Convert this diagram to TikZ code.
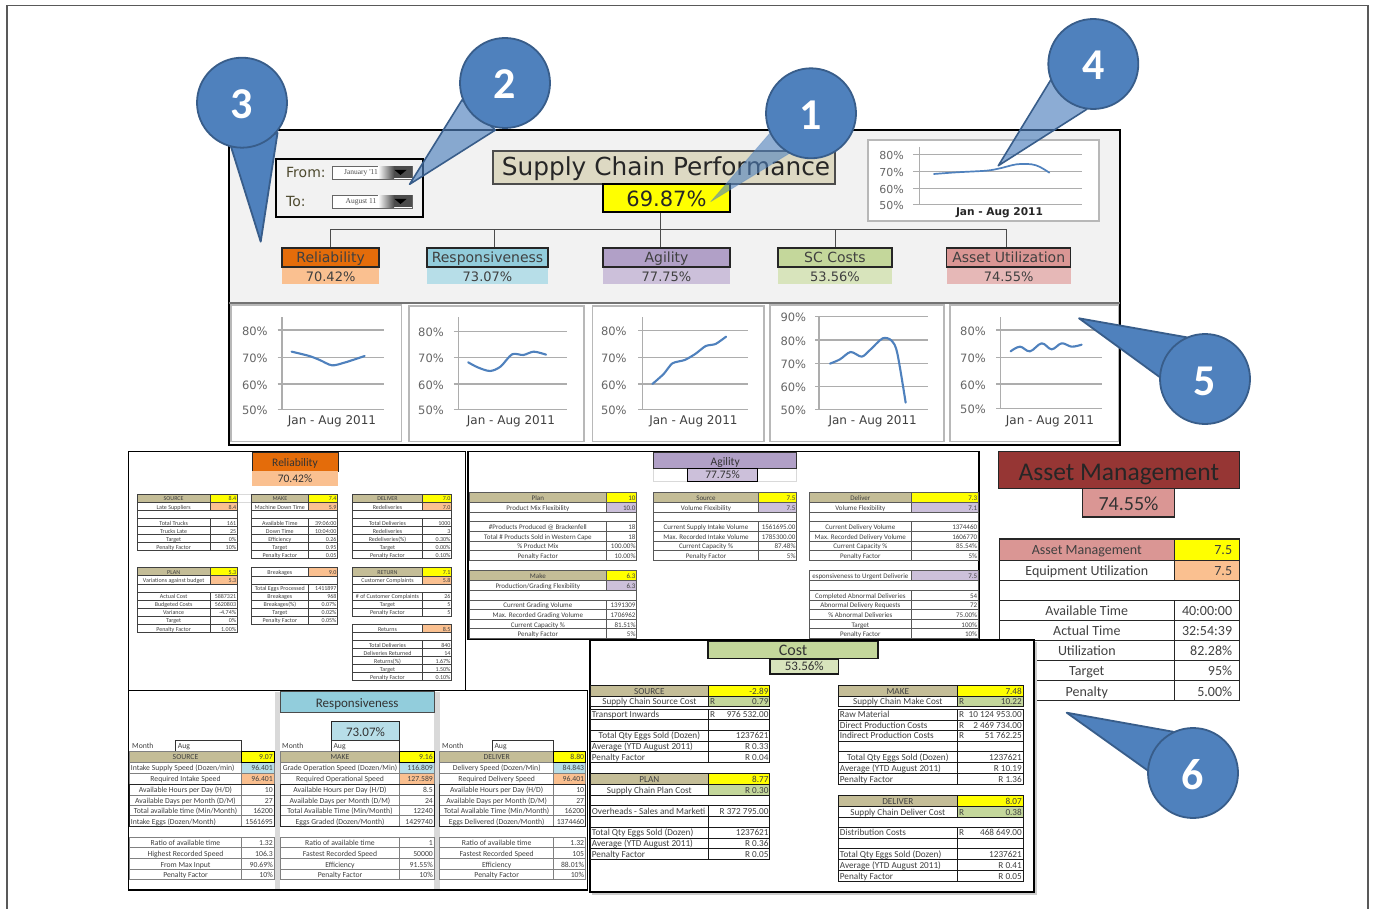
\documentclass[tikz,border=0pt]{standalone}
\usepackage{fontspec}
\setmainfont{Carlito}
\newfontfamily\djv{DejaVu Sans}
\newfontfamily\lser{Liberation Serif}
\definecolor{tcol}{HTML}{404040}
\definecolor{cblue}{HTML}{4F81BD}
\definecolor{cedge}{HTML}{385D8A}
\definecolor{chead}{HTML}{C4BD97}
\definecolor{cyel}{HTML}{FFFF00}
\definecolor{orgA}{HTML}{E46C0A}
\definecolor{orgB}{HTML}{FAC090}
\definecolor{aquA}{HTML}{92CDDC}
\definecolor{aquB}{HTML}{B7DEE8}
\definecolor{purA}{HTML}{B1A0C7}
\definecolor{purB}{HTML}{CCC0DA}
\definecolor{grnA}{HTML}{C4D79B}
\definecolor{grnB}{HTML}{D8E4BC}
\definecolor{redA}{HTML}{DA9694}
\definecolor{redB}{HTML}{E6B8B7}
\definecolor{redC}{HTML}{963634}
\definecolor{panel}{HTML}{F2F2F2}
\definecolor{tanbox}{HTML}{DDD9C3}
\newcounter{cn}
\def\tdy{0}
\def\vpad{1}
\newcommand\fsz[1]{\fontsize{#1}{#1}\selectfont}
\newcommand\T[4][]{\stepcounter{cn}\node[txt,#1] (n\thecn) at (#2,#3) {#4};}
\newcommand\cols[3]{\def\Xa{#1}\def\Xb{#2}\def\Xc{#3}}
\newcommand\rowbox[6]{%
 \fill[#3] (\Xa,#1) rectangle (\Xb,#2);
 \fill[#5] (\Xb,#1) rectangle (\Xc,#2);
 \draw[cell] (\Xa,#1) rectangle (\Xb,#2) (\Xb,#1) rectangle (\Xc,#2);
 \T[anchor=mid,font=\tabf,yshift=-\tdy pt]{{(\Xa+\Xb)/2}}{{(#1+#2)/2}}{#4}
 \T[anchor=mid east,font=\tabf,yshift=-\tdy pt]{\Xc-\vpad}{{(#1+#2)/2}}{#6}
}
\newcommand\rowL[6]{%
 \fill[#3] (\Xa,#1) rectangle (\Xb,#2);
 \fill[#5] (\Xb,#1) rectangle (\Xc,#2);
 \draw[cell] (\Xa,#1) rectangle (\Xb,#2) (\Xb,#1) rectangle (\Xc,#2);
 \T[anchor=mid west,font=\tabf,yshift=-\tdy pt]{\Xa+1}{{(#1+#2)/2}}{#4}
 \T[anchor=mid east,font=\tabf,yshift=-\tdy pt]{\Xc-\vpad}{{(#1+#2)/2}}{#6}
}
\newcommand\blank[2]{\draw[cell,fill=white] (\Xa,#1) rectangle (\Xc,#2);}
\newcommand\rmark[2]{\T[anchor=mid west,font=\tabf,yshift=-\tdy pt]{\Xb+2}{{(#1+#2)/2}}{R}}
\newcommand\frm[2]{\draw[tframe] (\Xa,#1) rectangle (\Xc,#2);}
\tikzset{
 txt/.style={inner sep=0pt,text=tcol},
 cell/.style={draw=black!75,line width=.7pt},
 tframe/.style={draw=black!85,line width=.9pt},
 panelbox/.style={draw=black,line width=1.6pt,fill=white},
 baseoff/.style={text depth=0pt,text height=#1},
 kpibox/.style={draw=black!85,line width=1.4pt,inner sep=0pt,text=tcol,font=\djv\fsz{14},baseoff=10.2pt},
 kpival/.style={inner sep=0pt,text=tcol,font=\djv\fsz{13},baseoff=11.2pt},
 chartbox/.style={draw=black!28,line width=1.5pt,fill=white},
 grid/.style={draw=black!32,line width=1.1pt},
 serie/.style={draw=cblue,line width=2.1pt,line cap=round,line join=round},
 axl/.style={txt,text=black!60,font=\djv\fsz{11.5},yshift=-1pt},
 xlab/.style={txt,font=\djv\fsz{12},yshift=-1pt},
 bubble/.style={circle,draw=cedge,line width=1.8pt,fill=cblue,minimum size=90pt,inner sep=0pt,text=white,font=\bfseries\fsz{44},baseoff=32pt},
 tipsolid/.style={draw=cedge,line width=1.8pt,fill=cblue,line join=round},
 tiplight/.style={draw=cedge,line width=1.6pt,fill=cblue,fill opacity=.65,line join=round},
 tipfaint/.style={draw=cblue,draw opacity=.3,line width=.8pt,fill=cblue,fill opacity=.6,line join=round},
 ptitle/.style={inner sep=0pt,text=black!80},
}
\begin{document}
\begin{tikzpicture}[x=1pt,y=-1pt]
\useasboundingbox (0,0) rectangle (1375,909);
\fill[white] (0,0) rectangle (1375,909);
% outer page frame
\draw[black!65,line width=1.1pt] (7,909) -- (7,5.5) -- (1368,5.5) -- (1368,909);

% ---------- dashboard ----------
\draw[black,line width=2pt,fill=panel] (228.5,130) rectangle (1120,445);
\fill[white] (229.5,303.5) rectangle (1119,444);
\draw[black!55,line width=1.2pt] (229,303) -- (1119.5,303);

\node[draw=black,line width=2pt,fill=panel,minimum width=147pt,minimum height=58pt,inner sep=0pt] (range) at (349.5,188) {};
\T[anchor=mid west,font=\djv\fsz{14},text=black!60!olive,yshift=-3pt]{286}{172}{From:}
\T[anchor=mid west,font=\djv\fsz{14},text=black!60!olive,yshift=-3pt]{286}{201}{To:}
\foreach \yy/\lab/\nm in {172.5/January '11/fromdd,201.5/August 11/todd}{
 \node[draw=black!60,line width=.9pt,fill=white,minimum width=80pt,minimum height=13pt,inner sep=0pt] (\nm) at (372,\yy) {};
 \shade[left color=white,right color=black!70] (378,\yy-6) rectangle (394,\yy+6);
 \fill[black!70] (394,\yy-6) rectangle (412,\yy+6);
 \fill[black] (394.5,\yy-2.5) -- (406.5,\yy-2.5) -- (400.5,\yy+2.5) -- cycle;
 \node[inner sep=0pt,text=black!70,font=\lser\fsz{7.5}] (\nm t) at (361,\yy) {\lab};
}
\node[draw=black!70,line width=1.2pt,fill=tanbox,minimum width=342pt,minimum height=33pt,inner sep=0pt,text=black!85,font=\djv\fsz{24.8},baseoff=16.8pt] (titlebox) at (664,167.5) {\hspace*{4pt}Supply Chain Performance};
\node[draw=black,line width=1.5pt,fill=cyel,minimum width=127pt,minimum height=28pt,inner sep=0pt,text=black!85,font=\djv\fsz{21},baseoff=17.2pt] (kpi) at (666.5,198) {69.87\%};

\node[kpibox,fill=orgA,minimum width=97pt,minimum height=19pt] (rel) at (330.6,257.5) {Reliability};
\node[kpibox,fill=aquA,minimum width=121pt,minimum height=19pt] (res) at (487.5,257.5) {Responsiveness};
\node[kpibox,fill=purA,minimum width=127pt,minimum height=19pt] (agi) at (666.5,257.5) {Agility};
\node[kpibox,fill=grnA,minimum width=114pt,minimum height=19pt] (sc) at (835,257.5) {SC Costs};
\node[kpibox,fill=redA,minimum width=124pt,minimum height=19pt] (asu) at (1008.7,257.5) {Asset Utilization};
\draw[black!70,line width=1pt] (kpi.south -| 660.7,0) -- (660.7,230) -| (rel.north);
\draw[black!70,line width=1pt] (660.7,230) -| ([xshift=7pt]res.north);
\draw[black!70,line width=1pt] (660.7,230) -- (agi.north -| 660.7,0);
\draw[black!70,line width=1pt] (660.7,230) -| (sc.north);
\draw[black!70,line width=1pt] (660.7,230) -| ([xshift=-2pt]asu.north);
\foreach \xx/\ww/\cc/\vv in {330.6/97/orgB/70.42,487.5/121/aquB/73.07,666.5/127/purB/77.75,835/114/grnB/53.56,1008.7/124/redB/74.55}{
 \node[kpival,fill=\cc,minimum width=\ww pt,minimum height=16pt] (v\vv) at (\xx,276) {\vv\%};
}

% small overall chart
\draw[chartbox,line width=1.1pt] (868,140) rectangle (1099,221);
\foreach \yy/\lab in {154.3/80,171.7/70,188/60,204.7/50}{
 \draw[grid,line width=.9pt] (913,\yy) -- (1082,\yy);
 \T[axl,font=\djv\fsz{11}]{891.7}{\yy}{\lab\%}
}
\draw[grid,line width=.9pt] (919,147) -- (919,205);
\T[txt,font=\djv\bfseries\fsz{10.6},text=black!85,yshift=-.5pt]{999.5}{212}{Jan - Aug 2011}
\begin{scope}[shift={(740pt,0pt)},x=.3333pt,y=-.3333pt]
\draw[serie,line width=1.7pt] plot[smooth,tension=.5] coordinates {(582,522)(650,517)(740,512)(780,505)(830,493)(875,493)(900,501)(928,518)};
\end{scope}

% five charts
\draw[chartbox] (231,305) rectangle (401.5,441.5);
\draw[chartbox] (409,306) rectangle (584,441.5);
\draw[chartbox] (592.7,306) rectangle (764,441.5);
\draw[chartbox] (770,305) rectangle (944,441.5);
\draw[chartbox] (950,305) rectangle (1118.5,441.5);
% chart 1
\foreach \yy/\lab in {330/80,357.3/70,384/60,409.3/50}{
 \draw[grid] (277.6,\yy) -- (383.6,\yy); \T[axl]{254.8}{\yy}{\lab\%}}
\draw[grid] (282,317.3) -- (282,409.3); \T[xlab]{332}{420}{Jan - Aug 2011}
% chart 2
\foreach \yy/\lab in {331.3/80,357.3/70,384/60,409.3/50}{
 \draw[grid] (453.8,\yy) -- (567,\yy); \T[axl]{431}{\yy}{\lab\%}}
\draw[grid] (458.7,317.3) -- (458.7,409.3); \T[xlab]{511}{420}{Jan - Aug 2011}
% chart 3
\foreach \yy/\lab in {330.7/80,357.3/70,384/60,409.3/50}{
 \draw[grid] (638,\yy) -- (748,\yy); \T[axl]{613.8}{\yy}{\lab\%}}
\draw[grid] (642.5,317.3) -- (642.5,409.3); \T[xlab]{693.4}{420}{Jan - Aug 2011}
% chart 4
\foreach \yy/\lab in {316.7/90,340/80,363.3/70,386.7/60,409.3/50}{
 \draw[grid] (815,\yy) -- (927.7,\yy); \T[axl]{793.3}{\yy}{\lab\%}}
\draw[grid] (819,316.7) -- (819,409.3); \T[xlab]{872.7}{420}{Jan - Aug 2011}
% chart 5
\foreach \yy/\lab in {330/80,357.3/70,384/60,408.7/50}{
 \draw[grid] (996,\yy) -- (1102,\yy); \T[axl]{973}{\yy}{\lab\%}}
\draw[grid] (1000.7,317.3) -- (1000.7,408.7); \T[xlab]{1050}{420}{Jan - Aug 2011}
\begin{scope}[shift={(225pt,-300pt)},x=.3509pt,y=-.3333pt]
\draw[serie] plot[smooth,tension=.5] coordinates {(190,155)(240,168)(270,180)(305,196)(340,188)(370,178)(398,168)};
\draw[serie] plot[smooth,tension=.5] coordinates {(693,187)(720,202)(755,213)(785,200)(818,163)(850,165)(880,155)(915,164)};
\draw[serie] plot[smooth,tension=.4] coordinates {(1218,252)(1250,222)(1275,190)(1310,180)(1340,162)(1370,138)(1398,132)(1428,110)};
\end{scope}
\begin{scope}[shift={(760pt,-300pt)},x=.3333pt,y=-.3333pt]
\draw[serie] plot[smooth,tension=.5] coordinates {(210,191)(240,178)(272,156)(305,170)(330,150)(368,115)(395,122)(412,160)(437,308)};
\draw[serie] plot[smooth,tension=.6] coordinates {(752,154)(780,140)(810,154)(845,130)(875,148)(905,130)(935,140)(965,134)};
\end{scope}

% ---------- Reliability panel ----------
\draw[panelbox] (128.5,451.5) rectangle (465.5,690.5);
\node[ptitle,draw=black!85,line width=1pt,fill=orgA,minimum width=86pt,minimum height=19pt,font=\fsz{11.5},baseoff=10.2pt] (reltitle) at (295,461.5) {Reliability};
\node[ptitle,fill=orgB,minimum width=86pt,minimum height=15pt,font=\fsz{11.5}] (relval) at (295,478.5) {70.42\%};
\draw[black!15,line width=.6pt] (237.3,494) -- (251.7,494) (237.3,502) -- (251.7,502);
\begin{scope}
\def\tabf{\fsz{6}}
\def\tdy{.6}
\cols{137.3}{210}{237.3}
\rowbox{494}{502}{chead}{SOURCE}{cyel}{8.4}
\rowbox{502}{510.7}{white}{Late Suppliers}{orgB}{8.4}
\blank{510.7}{518.7}
\rowbox{518.7}{526.7}{white}{Total Trucks}{white}{161}
\rowbox{526.7}{534.7}{white}{Trucks Late}{white}{25}
\rowbox{534.7}{542.7}{white}{Target}{white}{0\%}
\rowbox{542.7}{550.7}{white}{Penalty Factor}{white}{10\%}
\cols{251.7}{308}{337.7}
\rowbox{494}{502}{chead}{MAKE}{cyel}{7.4}
\rowbox{502}{510.7}{white}{Machine Down Time}{orgB}{5.9}
\blank{510.7}{518.7}
\rowbox{518.7}{526.7}{white}{Available Time}{white}{39:06:00}
\rowbox{526.7}{534.7}{white}{Down Time}{white}{10:04:00}
\rowbox{534.7}{542.7}{white}{Efficiency}{white}{0.26}
\rowbox{542.7}{550.7}{white}{Target}{white}{0.95}
\rowbox{550.7}{558.7}{white}{Penalty Factor}{white}{0.05}
\cols{352.7}{422.3}{451.7}
\rowbox{494}{502}{chead}{DELIVER}{cyel}{7.0}
\rowbox{502}{510.7}{white}{Redeliveries}{orgB}{7.0}
\blank{510.7}{518.7}
\rowbox{518.7}{526.7}{white}{Total Deliveries}{white}{1000}
\rowbox{526.7}{534.7}{white}{Redeliveries}{white}{3}
\rowbox{534.7}{542.7}{white}{Redeliveries(\%)}{white}{0.30\%}
\rowbox{542.7}{550.7}{white}{Target}{white}{0.00\%}
\rowbox{550.7}{558.7}{white}{Penalty Factor}{white}{0.10\%}
\cols{137.3}{210}{237.3}
\rowbox{567.3}{575.3}{chead}{PLAN}{cyel}{5.3}
\rowbox{575.3}{584}{white}{Variations against budget}{orgB}{5.3}
\blank{584}{592}
\rowbox{592}{600}{white}{Actual Cost}{white}{5887321}
\rowbox{600}{608}{white}{Budgeted Costs}{white}{5620803}
\rowbox{608}{616}{white}{Variance}{white}{-4.74\%}
\rowbox{616}{624}{white}{Target}{white}{0\%}
\rowbox{624}{632.7}{white}{Penalty Factor}{white}{1.00\%}
\cols{251.7}{308}{337.7}
\rowbox{567.3}{576}{white}{Breakages}{orgB}{9.0}
\blank{576}{584}
\rowbox{584}{592}{white}{Total Eggs Processed}{white}{1411897}
\rowbox{592}{600}{white}{Breakages}{white}{968}
\rowbox{600}{608}{white}{Breakages(\%)}{white}{0.07\%}
\rowbox{608}{616}{white}{Target}{white}{0.02\%}
\rowbox{616}{624}{white}{Penalty Factor}{white}{0.05\%}
\cols{352.7}{422.3}{451.7}
\rowbox{567.3}{576}{chead}{RETURN}{cyel}{7.1}
\rowbox{576}{584}{white}{Customer Complaints}{orgB}{5.8}
\blank{584}{592}
\rowbox{592}{600}{white}{\# of Customer Complaints}{white}{26}
\rowbox{600}{608}{white}{Target}{white}{5}
\rowbox{608}{616}{white}{Penalty Factor}{white}{5}
\rowbox{624}{632.7}{white}{Returns}{orgB}{8.5}
\blank{632.7}{640.7}
\rowbox{640.7}{648.7}{white}{Total Deliveries}{white}{840}
\rowbox{648.7}{656.7}{white}{Deliveries Returned}{white}{14}
\rowbox{656.7}{664.7}{white}{Returns(\%)}{white}{1.67\%}
\rowbox{664.7}{672.7}{white}{Target}{white}{1.50\%}
\rowbox{672.7}{680.7}{white}{Penalty Factor}{white}{0.10\%}
\end{scope}

% ---------- Agility panel ----------
\draw[panelbox] (468,451.5) rectangle (979,639.5);
\draw[black!15,line width=.6pt] (653.7,468.3) rectangle (687.3,481.7) (757.7,468.3) rectangle (796.7,481.7);
\node[ptitle,draw=black!80,line width=.9pt,fill=purA,minimum width=143pt,minimum height=15.6pt,font=\fsz{11.5},baseoff=9.2pt] (agititle) at (725.2,460.5) {Agility};
\node[ptitle,draw=black,line width=.9pt,fill=purB,minimum width=70.4pt,minimum height=13.4pt,font=\fsz{11.5}] (agival) at (722.5,475) {77.75\%};
\begin{scope}
\def\tabf{\fsz{7}}
\def\tdy{.7}
\tikzset{cell/.style={draw=black!65,line width=.7pt}}
\cols{469}{606.7}{636.7}
\rowbox{492.3}{502.3}{chead}{Plan}{cyel}{10}
\rowbox{502.3}{512}{white}{Product Mix Flexibility}{purB}{10.0}
\blank{512}{521.7}
\rowbox{521.7}{531.3}{white}{\#Products Produced @ Brackenfell}{white}{18}
\rowbox{531.3}{541}{white}{Total \# Products Sold in Western Cape}{white}{18}
\rowbox{541}{550.7}{white}{\% Product Mix}{white}{100.00\%}
\rowbox{550.7}{560}{white}{Penalty Factor}{white}{10.00\%}
\cols{653.7}{758.3}{796.7}
\rowbox{492.3}{502.3}{chead}{Source}{cyel}{7.5}
\rowbox{502.3}{512}{white}{Volume Flexibility}{purB}{7.5}
\blank{512}{521.7}
\rowbox{521.7}{531.3}{white}{Current Supply Intake Volume}{white}{1561695.00}
\rowbox{531.3}{541}{white}{Max. Recorded Intake Volume}{white}{1785300.00}
\rowbox{541}{550.7}{white}{Current Capacity \%}{white}{87.48\%}
\rowbox{550.7}{560}{white}{Penalty Factor}{white}{5\%}
\cols{809.7}{911}{978.3}
\rowbox{492.3}{502.3}{chead}{Deliver}{cyel}{7.3}
\rowbox{502.3}{512}{white}{Volume Flexibility}{purB}{7.1}
\blank{512}{521.7}
\rowbox{521.7}{531.3}{white}{Current Delivery Volume}{white}{1374460}
\rowbox{531.3}{541}{white}{Max. Recorded Delivery Volume}{white}{1606770}
\rowbox{541}{550.7}{white}{Current Capacity \%}{white}{85.54\%}
\rowbox{550.7}{560}{white}{Penalty Factor}{white}{5\%}
\cols{469}{606.7}{636.7}
\rowbox{570.7}{580.7}{chead}{Make}{cyel}{6.3}
\rowbox{580.7}{590.3}{white}{Production/Grading Flexibility}{purB}{6.3}
\blank{590.3}{600}
\rowbox{600}{609.7}{white}{Current Grading Volume}{white}{1391309}
\rowbox{609.7}{619.3}{white}{Max. Recorded Grading Volume}{white}{1706962}
\rowbox{619.3}{628.7}{white}{Current Capacity \%}{white}{81.51\%}
\rowbox{628.7}{638.3}{white}{Penalty Factor}{white}{5\%}
\cols{809.7}{911}{978.3}
\rowbox{570.7}{580.7}{white}{esponsiveness to Urgent Deliverie}{purB}{7.5}
\blank{580.7}{590.3}
\rowbox{590.3}{600}{white}{Completed Abnormal Deliveries}{white}{54}
\rowbox{600}{609.7}{white}{Abnormal Delivery Requests}{white}{72}
\rowbox{609.7}{619.3}{white}{\% Abnormal Deliveries}{white}{75.00\%}
\rowbox{619.3}{628.7}{white}{Target}{white}{100\%}
\rowbox{628.7}{638.3}{white}{Penalty Factor}{white}{10\%}
\end{scope}

% ---------- Responsiveness panel ----------
\draw[panelbox] (128.5,690.5) rectangle (587.5,890);
\fill[black!15] (274.7,692) rectangle (280.3,888.5);
\fill[black!15] (434,692) rectangle (439.7,888.5);
\node[ptitle,draw=black!70,line width=.8pt,fill=aquA,minimum width=153.7pt,minimum height=21pt,font=\fsz{13},baseoff=11pt] (restitle) at (357.2,702.2) {Responsiveness};
\node[ptitle,draw=black!85,line width=.9pt,fill=aquB,minimum width=68.4pt,minimum height=18.3pt,font=\fsz{13},baseoff=10.4pt] (resval) at (365.5,730.8) {73.07\%};
\begin{scope}
\def\tabf{\fsz{7.7}}
\def\tdy{.9}
\tikzset{cell/.style={draw=black!50,line width=.5pt}}
\foreach \mx/\bxa/\bxb in {132/175.7/241.3,282/331.3/399.7,442/492.3/553.7}{
 \T[anchor=mid west,font=\tabf,yshift=-.5pt]{\mx}{746}{Month}
 \draw[black!80,line width=.7pt] (\bxa,751) -- (\bxa,740) -- (\bxb,740) -- (\bxb,751);
 \T[anchor=mid west,font=\tabf,yshift=-.5pt]{\bxa+2}{746}{Aug}
}
\cols{129.7}{241.3}{274}
\rowbox{751}{762.3}{chead}{SOURCE}{cyel}{9.07}
\rowL{762.3}{773}{white}{Intake Supply Speed (Dozen/min)}{aquB}{96.401}
\rowbox{773}{784.3}{white}{Required Intake Speed}{orgB}{96.401}
\rowbox{784.3}{795}{white}{Available Hours per Day (H/D)}{white}{10}
\rowbox{795}{805.3}{white}{Available Days per Month (D/M)}{white}{27}
\rowbox{805.3}{815.7}{white}{Total available time (Min/Month)}{white}{16200}
\rowL{815.7}{826.3}{white}{Intake Eggs (Dozen/Month)}{white}{1561695}
\frm{784.3}{826.3}
\draw[black,line width=.9pt] (\Xb,751) rectangle (\Xc,762.3);
\rowbox{837}{847.7}{white}{Ratio of available time}{white}{1.32}
\rowbox{847.7}{858.7}{white}{Highest Recorded Speed}{white}{106.3}
\rowbox{858.7}{869.3}{white}{From Max Input}{white}{90.69\%}
\rowbox{869.3}{879.3}{white}{Penalty Factor}{white}{10\%}
\cols{280.3}{399.7}{434}
\rowbox{751}{762.3}{chead}{MAKE}{cyel}{9.16}
\rowbox{762.3}{773}{white}{Grade Operation Speed (Dozen/Min)}{aquB}{116.809}
\rowbox{773}{784.3}{white}{Required Operational Speed}{orgB}{127.589}
\rowbox{784.3}{795}{white}{Available Hours per Day (H/D)}{white}{8.5}
\rowbox{795}{805.3}{white}{Available Days per Month (D/M)}{white}{24}
\rowbox{805.3}{815.7}{white}{Total Available Time (Min/Month)}{white}{12240}
\rowbox{815.7}{826.3}{white}{Eggs Graded (Dozen/Month)}{white}{1429740}
\frm{784.3}{826.3}
\draw[black,line width=.9pt] (\Xb,751) rectangle (\Xc,762.3);
\rowbox{837}{847.7}{white}{Ratio of available time}{white}{1}
\rowbox{847.7}{858.7}{white}{Fastest Recorded Speed}{white}{50000}
\rowbox{858.7}{869.3}{white}{Efficiency}{white}{91.55\%}
\rowbox{869.3}{879.3}{white}{Penalty Factor}{white}{10\%}
\cols{439.7}{553.7}{585.3}
\rowbox{751}{762.3}{chead}{DELIVER}{cyel}{8.80}
\rowbox{762.3}{773}{white}{Delivery Speed (Dozen/Min)}{aquB}{84.843}
\rowbox{773}{784.3}{white}{Required Delivery Speed}{orgB}{96.401}
\rowbox{784.3}{795}{white}{Available Hours per Day (H/D)}{white}{10}
\rowbox{795}{805.3}{white}{Available Days per Month (D/M)}{white}{27}
\rowbox{805.3}{815.7}{white}{Total Available Time (Min/Month)}{white}{16200}
\rowbox{815.7}{826.3}{white}{Eggs Delivered (Dozen/Month)}{white}{1374460}
\frm{784.3}{826.3}
\draw[black,line width=.9pt] (\Xb,751) rectangle (\Xc,762.3);
\rowbox{837}{847.7}{white}{Ratio of available time}{white}{1.32}
\rowbox{847.7}{858.7}{white}{Fastest Recorded Speed}{white}{105}
\rowbox{858.7}{869.3}{white}{Efficiency}{white}{88.01\%}
\rowbox{869.3}{879.3}{white}{Penalty Factor}{white}{10\%}
\end{scope}

% ---------- Asset Management panel ----------
\node[ptitle,draw=black!85,line width=1.4pt,fill=redC,minimum width=241pt,minimum height=36.6pt,font=\fsz{25.5},text=black!85,baseoff=21pt] (asttitle) at (1118.8,470) {Asset Management};
\node[ptitle,draw=black!85,line width=1.4pt,fill=redA,minimum width=91.6pt,minimum height=28.7pt,font=\fsz{20},text=black!80,baseoff=16pt] (astval) at (1128.5,502.7) {74.55\%};
\begin{scope}
\def\tabf{\fsz{14}}
\def\tdy{3}
\def\vpad{7}
\tikzset{cell/.style={draw=black!85,line width=.8pt}}
\cols{999.3}{1174.3}{1239.3}
\rowbox{539}{560}{redA}{Asset Management}{cyel}{7.5}
\rowbox{560}{580}{white}{Equipment Utilization}{orgB}{7.5}
\blank{580}{600.3}
\rowbox{600.3}{620.3}{white}{Available Time}{white}{40:00:00}
\rowbox{620.3}{640.3}{white}{Actual Time}{white}{32:54:39}
\rowbox{640.3}{660.3}{white}{Utilization}{white}{82.28\%}
\rowbox{660.3}{680.7}{white}{Target}{white}{95\%}
\rowbox{680.7}{700.7}{white}{Penalty}{white}{5.00\%}
\draw[tframe,line width=1.2pt] (\Xa,539) rectangle (\Xc,700.7);
\end{scope}

% ---------- Cost panel ----------
\draw[draw=black,line width=2.4pt,fill=white] (590,640) rectangle (1034,892);
\draw[black!20,line width=1.2pt] (592,894) -- (1036,894) -- (1036,642);
\node[ptitle,draw=black!90,line width=1.4pt,fill=grnA,minimum width=170pt,minimum height=17.5pt,font=\fsz{16}] (costtitle) at (793,650) {Cost};
\node[ptitle,draw=black!90,line width=1.2pt,fill=grnB,minimum width=68.7pt,minimum height=15pt,font=\fsz{13}] (costval) at (804.3,666.5) {53.56\%};
\begin{scope}
\def\tabf{\fsz{9.2}}
\def\tdy{1}
\tikzset{cell/.style={draw=black!90,line width=1pt}}
\cols{590.7}{708}{769.7}
\rowbox{685.3}{696}{chead}{SOURCE}{cyel}{-2.89}
\rowbox{696}{706.7}{white}{Supply Chain Source Cost}{grnA}{0.79}\rmark{696}{706.7}
\rowL{709}{719.3}{white}{Transport Inwards}{white}{976 532.00}\rmark{709}{719.3}
\rowL{719.3}{730}{white}{}{white}{}
\rowbox{730}{741}{white}{Total Qty Eggs Sold (Dozen)}{white}{1237621}
\rowL{741}{751.7}{white}{Average (YTD August 2011)}{white}{R 0.33}
\rowL{751.7}{762.3}{white}{Penalty Factor}{white}{R 0.04}
\rowbox{773.3}{784.7}{chead}{PLAN}{cyel}{8.77}
\rowbox{784.7}{795.7}{white}{Supply Chain Plan Cost}{grnA}{R 0.30}
\blank{795.7}{805.7}
\rowL{805.7}{816.7}{white}{Overheads - Sales and Marketi}{white}{R 372 795.00}
\rowL{816.7}{827}{white}{}{white}{}
\rowL{827}{838}{white}{Total Qty Eggs Sold (Dozen)}{white}{1237621}
\rowL{838}{848.7}{white}{Average (YTD August 2011)}{white}{R 0.36}
\rowL{848.7}{859.3}{white}{Penalty Factor}{white}{R 0.05}
\cols{838.7}{957}{1023}
\rowbox{685.3}{696}{chead}{MAKE}{cyel}{7.48}
\rowbox{696}{706.7}{white}{Supply Chain Make Cost}{grnA}{10.22}\rmark{696}{706.7}
\rowL{709}{720}{white}{Raw Material}{white}{10 124 953.00}\rmark{709}{720}
\rowL{720}{730}{white}{Direct Production Costs}{white}{2 469 734.00}\rmark{720}{730}
\rowL{730}{741}{white}{Indirect Production Costs}{white}{51 762.25}\rmark{730}{741}
\rowL{741}{751.7}{white}{}{white}{}
\rowbox{751.7}{762.7}{white}{Total Qty Eggs Sold (Dozen)}{white}{1237621}
\rowL{762.7}{773.3}{white}{Average (YTD August 2011)}{white}{R 10.19}
\rowL{773.3}{784}{white}{Penalty Factor}{white}{R 1.36}
\rowbox{795.7}{806.3}{chead}{DELIVER}{cyel}{8.07}
\rowbox{806.3}{817}{white}{Supply Chain Deliver Cost}{grnA}{0.38}\rmark{806.3}{817}
\blank{817}{827}
\rowL{827}{838}{white}{Distribution Costs}{white}{468 649.00}\rmark{827}{838}
\rowL{838}{848.7}{white}{}{white}{}
\rowL{848.7}{859.3}{white}{Total Qty Eggs Sold (Dozen)}{white}{1237621}
\rowL{859.3}{870.3}{white}{Average (YTD August 2011)}{white}{R 0.41}
\rowL{870.3}{881}{white}{Penalty Factor}{white}{R 0.05}
\end{scope}

% ---------- callouts ----------
\coordinate (tip1) at (710.7,201.7);
\coordinate (tip2) at (409.6,184.3);
\coordinate (tip3) at (260.7,241.7);
\coordinate (tip4) at (998.3,165.7);
\coordinate (tip5) at (1079,318.3);
\coordinate (tip6) at (1066.7,712.7);
\draw[tipfaint] (tip1) -- (770,133) -- (790,153) -- cycle;
\draw[tiplight] (tip2) -- (462,100) -- (495.4,130) -- cycle;
\draw[tipsolid] (tip3) -- (231,146.7) -- (277.5,133) -- cycle;
\draw[tiplight] (tip4) -- (1050.7,80) -- (1086.7,109.3) -- cycle;
\draw[tipsolid] (tip5) -- (1186.7,337.3) -- (1160,377.3) -- cycle;
\draw[tipsolid] (tip6) -- (1173,731.7) -- (1148,770.7) -- cycle;
\node[bubble] (b1) at (811,113.3) {1};
\node[bubble] (b2) at (505,83) {2};
\node[bubble] (b3) at (242,102.7) {3};
\node[bubble] (b4) at (1093.3,64) {4};
\node[bubble] (b5) at (1205,379) {5};
\node[bubble] (b6) at (1193,773) {6};
\end{tikzpicture}
\end{document}
